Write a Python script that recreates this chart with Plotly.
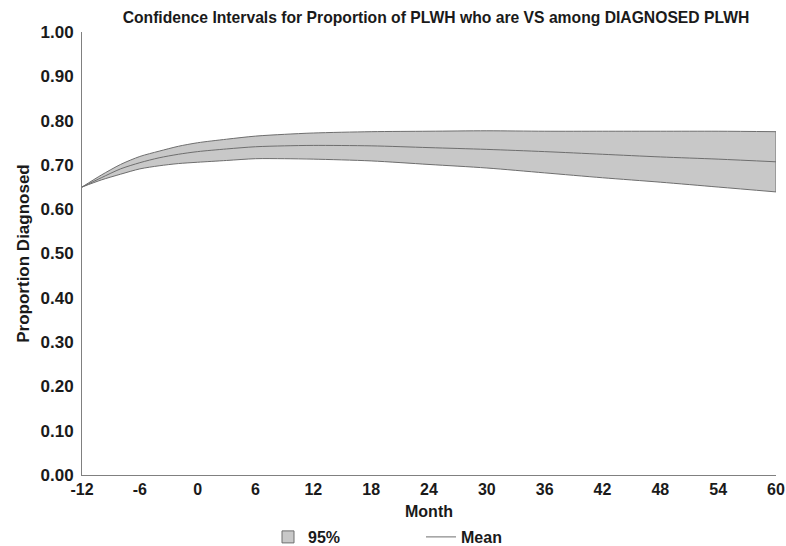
import plotly.graph_objects as go

months = [-12, -10, -8, -6, -4, -2, 0, 3, 6, 9, 12, 18, 24, 30, 36, 42, 48, 54, 60]
upper = [0.650, 0.677, 0.701, 0.719, 0.731, 0.742, 0.750, 0.758, 0.765, 0.769, 0.772, 0.775, 0.776, 0.777, 0.776, 0.776, 0.776, 0.776, 0.775]
mean = [0.650, 0.671, 0.691, 0.705, 0.716, 0.724, 0.730, 0.736, 0.741, 0.743, 0.744, 0.743, 0.739, 0.735, 0.730, 0.724, 0.718, 0.713, 0.707]
lower = [0.650, 0.666, 0.679, 0.691, 0.698, 0.703, 0.706, 0.710, 0.714, 0.714, 0.713, 0.709, 0.701, 0.693, 0.682, 0.671, 0.661, 0.650, 0.639]

x_ticks = [-12, -6, 0, 6, 12, 18, 24, 30, 36, 42, 48, 54, 60]
y_ticks = [0.0, 0.1, 0.2, 0.3, 0.4, 0.5, 0.6, 0.7, 0.8, 0.9, 1.0]

FONT = "Liberation Sans, Arial, sans-serif"
TXT = "#1a1a1a"
EDGE = "#6e6e6e"
FILL = "#c8c8c8"

fig = go.Figure()
# lower bound of the band
fig.add_trace(go.Scatter(
    x=months, y=lower, mode="lines",
    line=dict(color=EDGE, width=1, shape="spline", smoothing=0.8),
    showlegend=False, hoverinfo="skip",
))
# upper bound, filled down to the lower bound
fig.add_trace(go.Scatter(
    x=months, y=upper, mode="lines", fill="tonexty", fillcolor=FILL,
    line=dict(color=EDGE, width=1, shape="spline", smoothing=0.8),
    showlegend=False, hoverinfo="skip",
))
# closing edge of the band at the last month
fig.add_trace(go.Scatter(
    x=[months[-1], months[-1]], y=[lower[-1], upper[-1]], mode="lines",
    line=dict(color=EDGE, width=1),
    showlegend=False, hoverinfo="skip",
))
# legend entry for the band
fig.add_trace(go.Scatter(
    x=[None], y=[None], mode="markers", name="95%",
    marker=dict(symbol="square", size=12, color=FILL, line=dict(color=EDGE, width=1)),
    legendrank=1,
))
fig.add_trace(go.Scatter(
    x=months, y=mean, mode="lines", name="Mean",
    line=dict(color=EDGE, width=1, shape="spline", smoothing=0.8),
    legendrank=2,
))

fig.update_layout(
    width=786, height=546,
    margin=dict(l=82, r=10, t=32, b=71, autoexpand=False),
    paper_bgcolor="white", plot_bgcolor="white",
    font=dict(family=FONT, size=16, color=TXT),
    title=dict(
        text="<b>Confidence Intervals for Proportion of PLWH who are VS among DIAGNOSED PLWH</b>",
        x=436 / 786, xref="container", xanchor="center",
        y=1 - 18 / 546, yref="container", yanchor="middle",
        font=dict(family=FONT, size=15.7, color=TXT),
    ),
    showlegend=True,
    legend=dict(
        orientation="h",
        x=268 / 786, xref="container", xanchor="left",
        y=1 - 537 / 546, yref="container", yanchor="middle",
        entrywidth=108, entrywidthmode="pixels",
        font=dict(family=FONT, size=16, color=TXT, weight="bold"),
        bgcolor="rgba(0,0,0,0)",
        traceorder="normal",
    ),
    xaxis=dict(
        range=[-12, 60],
        tickmode="array", tickvals=x_ticks,
        ticktext=[f"<b>{v}</b>" for v in x_ticks],
        showgrid=False, zeroline=False,
        showline=True, linecolor="#808080", linewidth=1,
        ticks="",
        title=dict(text="<b>Month</b>", font=dict(size=16)),
        tickfont=dict(size=16),
        automargin=False,
    ),
    yaxis=dict(
        range=[0, 1.0],
        tickmode="array", tickvals=y_ticks,
        ticktext=[f"<b>{v:.2f}</b>" for v in y_ticks],
        showgrid=False, zeroline=False,
        showline=True, linecolor="#808080", linewidth=1,
        ticks="outside", ticklen=4, tickcolor="rgba(0,0,0,0)",
        title=dict(text="<b>Proportion Diagnosed</b>", standoff=6, font=dict(size=17)),
        tickfont=dict(size=17),
        automargin=True,
    ),
)

fig.write_html("out.html")
